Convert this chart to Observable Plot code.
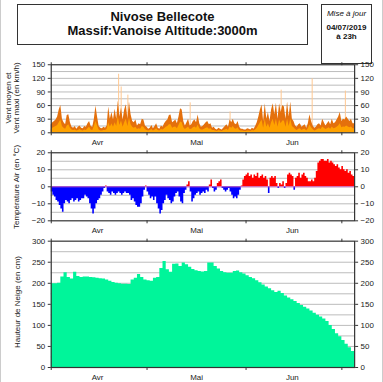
<!DOCTYPE html>
<html><head><meta charset="utf-8">
<script src="https://cdn.jsdelivr.net/npm/d3@7"></script>
<script src="https://cdn.jsdelivr.net/npm/@observablehq/plot@0.6"></script>
<style>
body{margin:0;background:#fff;font-family:"Liberation Sans",Arial,sans-serif;}
#root{position:relative;width:381px;height:382px;overflow:hidden;border-left:1px solid #ccc;border-right:1px solid #ccc;}
.panel{position:absolute;left:-1px;}
.box{position:absolute;border:1.5px solid #333;box-sizing:border-box;text-align:center;color:#111;}
.ylab{position:absolute;font-size:8px;color:#222;white-space:nowrap;transform:translate(-50%,-50%) rotate(-90deg);}
</style></head><body><div id="root">
<div class="box" style="left:16px;top:4px;width:291px;height:41px;font-weight:bold;font-size:13px;line-height:13.5px;padding-top:5px;">Nivose Bellecote<br>Massif:Vanoise Altitude:3000m</div>
<div class="box" style="left:320px;top:4px;width:51px;height:60px;font-size:8px;">
<div style="font-style:italic;margin-top:4px;">Mise à jour</div>
<div style="font-weight:bold;margin-top:6px;line-height:8.5px;">04/07/2019<br>à 23h</div></div>
<div class="ylab" style="left:7px;top:98px;">Vent moyen et</div>
<div class="ylab" style="left:15px;top:98px;">Vent maxi (en km/h)</div>
<div class="ylab" style="left:15px;top:187px;">Température Air (en °C)</div>
<div class="ylab" style="left:16px;top:302px;">Hauteur de Neige (en cm)</div>
</div>
<script>
// ---------- data ----------
const monthLabels = ["Avr", "Mai", "Jun"];
const monthStarts = ["2019-04-01", "2019-05-01", "2019-06-01", "2019-07-01"];
const monthMids = ["2019-04-15T12:00Z", "2019-05-16T12:00Z", "2019-06-15T12:00Z"];
const startDate = "2019-04-01T00:00Z";
const endDate = "2019-07-05T00:00Z";

// wind, 12-hourly (km/h)
const windMax = [18,22, 25,28, 35,50, 60,30, 22,18, 38,40, 22,12, 10,14, 8,12, 15,10,
  9,14, 12,20, 25,14, 12,30, 59,35, 14,10, 9,12, 10,15, 57,30, 45,28,
  52,30, 70,35, 55,28, 50,62, 30,68, 40,25, 22,28, 15,20, 18,30, 28,15,
  12,8, 10,16, 9,14, 20,10, 8,15, 12,20, 25,28, 38,39, 22,25, 28,20,
  35,53, 50,25, 15,22, 30,15, 18,25, 28,22, 39,20, 12,14, 18,22, 25,18,
  20,10, 12,8, 6,10, 8,6, 10,14, 18,12, 28,22, 30,20, 18,25, 12,8,
  8,6, 6,9, 8,6, 10,8, 14,22, 35,50, 61,25, 64,30, 45,25, 50,64,
  40,65, 30,64, 45,60, 57,30, 68,35, 68,30, 25,15, 12,18, 20,12, 15,18,
  10,20, 40,25, 15,10, 12,18, 20,15, 30,22, 15,20, 25,18, 30,20, 22,28,
  35,45, 25,30, 28,35, 30,25, 30,20];
const windMean = [8,10, 12,14, 16,22, 28,14, 10,8, 15,18, 10,6, 5,6, 4,5, 7,5,
  4,6, 5,9, 12,6, 5,14, 25,15, 6,4, 4,5, 5,7, 22,12, 20,12,
  22,14, 35,16, 26,12, 22,30, 14,32, 18,12, 10,12, 7,9, 8,14, 12,7,
  5,4, 5,7, 4,6, 9,5, 4,7, 6,9, 12,14, 18,18, 10,12, 13,9,
  16,24, 22,11, 7,10, 13,7, 8,11, 13,10, 17,9, 6,6, 8,10, 11,8,
  9,5, 5,4, 3,5, 4,3, 5,6, 8,5, 13,10, 14,9, 8,11, 5,4,
  4,3, 3,4, 4,3, 5,4, 6,10, 16,22, 28,10, 30,12, 20,10, 22,30,
  16,30, 12,28, 20,26, 26,12, 30,14, 30,14, 11,7, 5,8, 9,5, 7,8,
  4,9, 17,11, 7,4, 5,8, 9,7, 13,10, 7,9, 11,8, 13,9, 10,12,
  15,20, 11,13, 12,15, 13,11, 13,9];
// isolated gusts (day offset from 1 April, km/h)
const gustDays = [21.1, 21.9, 24.0, 43.5, 56.0, 72.0, 81.7, 92.1];
const gustValues = [129, 101, 83, 66, 46, 94, 119, 92];

// air temperature, 12-hourly (°C)
const temps = [-3,-5, -6,-8, -9,-11, -13,-15, -10,-8, -9,-10, -8,-7, -9,-8, -7,-9, -8,-7,
  -7,-5, -6,-7, -10,-13, -16,-13, -10,-8, -7,-5, -3,-1, 0.5,-3, -4,-5, -3,-4,
  -5,-4, -3,-4, -5,-4, -3,-4, -4,-5, -8,-7, -9,-11, -12,-12, -10,-6, -2,0.5,
  -3,-5, -7,-6, -8,-6, -10,-13, -16,-14, -10,-8, -5,-7, -8,-10, -9,-6, -4,-3,
  -6,-9, -10,-4, -2,1, 3,-3, -9,-7, -5,-4, -3,-5, -4,-3, -4,-2, -3,1,
  4,-1, -3,-2, 2,3, 4,-1, -2,-3, -2,-1, -3,-5, -7,-6, -7,-5, -2,0.5,
  4,6, 7,8, 6,7, 5,7, 6,8, 5,6, 7,5, 6,4, -4,5, 6,5,
  6,2, -1,2, 1,3, -1,2, 7,8, 7,6, -2,5, 6,8, 5,7, 8,6,
  5,3, 3,4, 3,5, 9,14, 15,16, 16,15, 15,16, 14,15, 14,13, 12,13,
  11,10, 12,10, 9,10, 8,9, 7,6];

// snow depth, daily (cm)
const snow = [199,199,200,215,225,214,210,226,216,214, 215,215,214,213,212,211,210,208,205,202,
  200,199,198,198,197,208,212,221,214,208, 206,205,212,214,235,252,232,226,245,246,
  240,248,244,238,233,230,228,227,228,248, 248,240,234,228,225,224,224,228,229,225,
  222,218,214,211,206,201,196,191,187,182, 178,181,176,170,165,161,157,152,147,143,
  139,134,129,124,120,115,109,100,90,80, 73,64,55,47,38];

// ---------- build ----------
const t0 = new Date(startDate), tEnd = new Date(endDate);
const H = 3600e3;
const at = (i, step) => new Date(+t0 + i * step * H);
const wind = windMax.map((v, i) => ({date: at(i, 12), max: v, mean: windMean[i]}));
wind.push({date: tEnd, max: windMax[windMax.length - 1], mean: windMean[windMean.length - 1]});
const gusts = gustDays.map((d, i) => ({date: at(d, 24), v: gustValues[i]}));
const temp = temps.map((v, i) => ({date: at(i, 12), v}));
temp.push({date: tEnd, v: temps[temps.length - 1]});
const snowD = snow.map((v, i) => ({date: at(i, 24), v}));
snowD.push({date: tEnd, v: snow[snow.length - 1]});

const starts = monthStarts.map(d => new Date(d));
const mids = monthMids.map(d => new Date(d));
const labelOf = d => monthLabels[mids.findIndex(m => +m === +d)];
const font = {fontFamily: "'Liberation Sans', Arial, sans-serif", fontSize: "8px", color: "#222", background: "none", overflow: "visible"};

function panel(top, height, mt, mb, yDomain, yTicks, grid, marks, labels) {
  const p = Plot.plot({
    width: 383, height, marginLeft: 51, marginRight: 27, marginTop: mt, marginBottom: mb,
    style: font,
    x: {type: "utc", domain: [t0, tEnd]},
    y: {domain: yDomain},
    marks: [
      Plot.ruleY(grid, {stroke: "#bbb", strokeWidth: 1}),
      ...marks,
      Plot.frame({stroke: "#333", strokeWidth: 1.2}),
      Plot.axisY(yTicks, {anchor: "left", tickSize: 3, tickPadding: 3, label: null, stroke: "#333"}),
      Plot.axisY(yTicks, {anchor: "right", tickSize: 3, tickPadding: 3, label: null, stroke: "#333"}),
      Plot.axisX(starts, {anchor: "top", tickSize: 3, tickFormat: () => "", label: null, stroke: "#333"}),
      Plot.axisX(starts, {anchor: "bottom", tickSize: 3, tickFormat: () => "", label: null, stroke: "#333"}),
      ...(labels ? [Plot.axisX(mids, {anchor: "bottom", tickSize: 0, tickPadding: 7, tickFormat: labelOf, label: null})] : [])
    ]
  });
  p.classList.add("panel");
  p.style.top = top + "px";
  document.getElementById("root").appendChild(p);
}

// wind panel
panel(55, 95, 9.3, 17.3, [0, 150], [0, 30, 60, 90, 120, 150], d3.range(15, 150, 15), [
  Plot.ruleX(gusts, {x: "date", y1: 0, y2: "v", stroke: "#ffc890", strokeWidth: 1}),
  Plot.areaY(wind, {x: "date", y: "max", fill: "#e4700c", curve: "linear"}),
  Plot.areaY(wind, {x: "date", y: "mean", fill: "#ffa200", curve: "linear"})
], true);

// temperature panel
panel(148, 90, 4.3, 17.3, [-20, 20], [-20, -10, 0, 10, 20], d3.range(-15, 20, 5), [
  Plot.areaY(temp, {x: "date", y: d => Math.min(d.v, 0), fill: "#0000ff", curve: "step-after"}),
  Plot.areaY(temp, {x: "date", y: d => Math.max(d.v, 0), fill: "#ff0000", curve: "step-after"}),
  Plot.ruleY([0], {stroke: "#d060c0", strokeWidth: 1})
], true);

// snow panel
panel(236, 146, 4.7, 14.3, [0, 300], [0, 50, 100, 150, 200, 250, 300], d3.range(25, 300, 25), [
  Plot.areaY(snowD, {x: "date", y: "v", fill: "#00f59a", curve: "step-after"})
], true);
</script>
</body></html>
